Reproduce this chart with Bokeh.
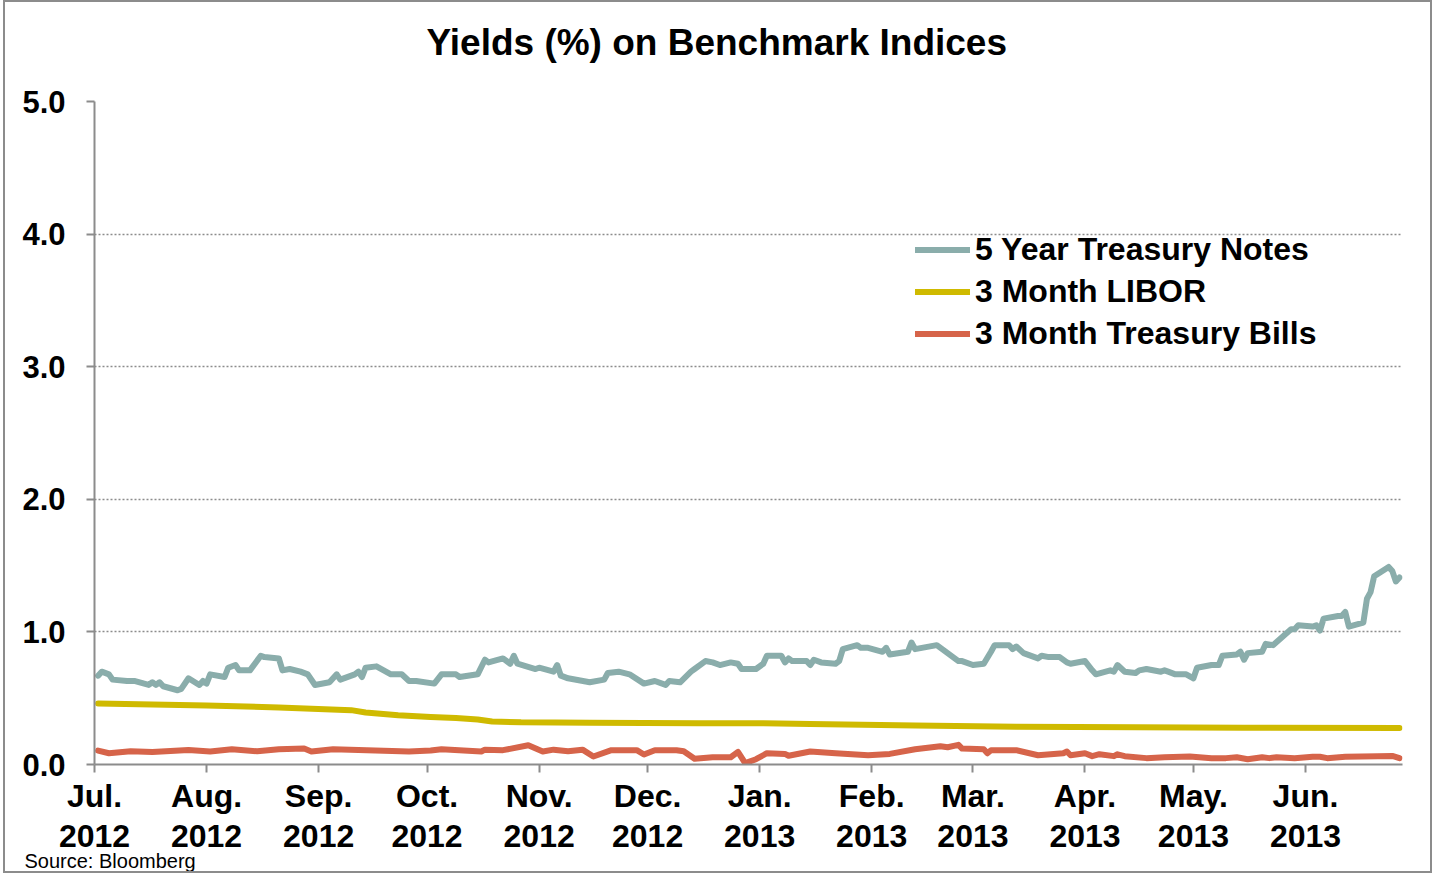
from datetime import datetime
import pandas as pd
from bokeh.plotting import figure
from bokeh.models import (Range1d, FixedTicker, PrintfTickFormatter, Legend, LegendItem,
                          Title, ColumnDataSource)
from bokeh.embed import file_html
from bokeh.resources import INLINE

# ---------------- data ----------------
title_text = "Yields (%) on Benchmark Indices"
source_text = "Source: Bloomberg"
series_names = ["5 Year Treasury Notes", "3 Month LIBOR", "3 Month Treasury Bills"]

t5_dates = ["2012-07-02", "2012-07-03", "2012-07-05", "2012-07-06", "2012-07-10", "2012-07-12",
            "2012-07-16", "2012-07-17", "2012-07-18", "2012-07-19", "2012-07-20", "2012-07-24",
            "2012-07-25", "2012-07-27", "2012-07-30", "2012-07-31", "2012-08-01", "2012-08-02",
            "2012-08-06", "2012-08-07", "2012-08-09", "2012-08-10", "2012-08-13", "2012-08-16",
            "2012-08-17", "2012-08-21", "2012-08-22", "2012-08-24", "2012-08-27", "2012-08-29",
            "2012-08-31", "2012-09-04", "2012-09-06", "2012-09-07", "2012-09-11", "2012-09-12",
            "2012-09-13", "2012-09-14", "2012-09-17", "2012-09-19", "2012-09-21", "2012-09-24",
            "2012-09-26", "2012-09-28", "2012-10-03", "2012-10-05", "2012-10-09", "2012-10-10",
            "2012-10-15", "2012-10-17", "2012-10-18", "2012-10-22", "2012-10-24", "2012-10-25",
            "2012-10-26", "2012-10-31", "2012-11-01", "2012-11-05", "2012-11-06", "2012-11-07",
            "2012-11-09", "2012-11-15", "2012-11-19", "2012-11-20", "2012-11-23", "2012-11-26",
            "2012-11-30", "2012-12-03", "2012-12-06", "2012-12-07", "2012-12-10", "2012-12-13",
            "2012-12-14", "2012-12-17", "2012-12-19", "2012-12-21", "2012-12-24", "2012-12-26",
            "2012-12-27", "2012-12-31", "2013-01-02", "2013-01-03", "2013-01-07", "2013-01-08",
            "2013-01-09", "2013-01-10", "2013-01-14", "2013-01-15", "2013-01-16", "2013-01-18",
            "2013-01-22", "2013-01-23", "2013-01-24", "2013-01-28", "2013-01-29", "2013-01-31",
            "2013-02-04", "2013-02-05", "2013-02-06", "2013-02-11", "2013-02-12", "2013-02-13",
            "2013-02-19", "2013-02-25", "2013-02-26", "2013-03-01", "2013-03-04", "2013-03-06",
            "2013-03-07", "2013-03-11", "2013-03-12", "2013-03-13", "2013-03-15", "2013-03-19",
            "2013-03-20", "2013-03-22", "2013-03-25", "2013-03-27", "2013-03-28", "2013-04-01",
            "2013-04-03", "2013-04-04", "2013-04-08", "2013-04-09", "2013-04-10", "2013-04-12",
            "2013-04-15", "2013-04-16", "2013-04-18", "2013-04-22", "2013-04-23", "2013-04-24",
            "2013-04-26", "2013-04-29", "2013-05-01", "2013-05-02", "2013-05-06", "2013-05-08",
            "2013-05-09", "2013-05-13", "2013-05-14", "2013-05-15", "2013-05-16", "2013-05-20",
            "2013-05-21", "2013-05-23", "2013-05-28", "2013-05-29", "2013-05-30", "2013-06-03",
            "2013-06-04", "2013-06-05", "2013-06-06", "2013-06-10", "2013-06-11", "2013-06-12",
            "2013-06-13", "2013-06-17", "2013-06-18", "2013-06-19", "2013-06-20", "2013-06-24",
            "2013-06-25", "2013-06-26", "2013-06-27"]
t5_values = [0.67, 0.70, 0.68, 0.64, 0.63, 0.63,
             0.60, 0.62, 0.60, 0.62, 0.59, 0.56,
             0.57, 0.65, 0.60, 0.63, 0.61, 0.68,
             0.66, 0.73, 0.75, 0.71, 0.71, 0.82,
             0.81, 0.80, 0.71, 0.72, 0.70, 0.68,
             0.60, 0.62, 0.68, 0.64, 0.68, 0.70,
             0.66, 0.73, 0.74, 0.71, 0.68, 0.68,
             0.63, 0.63, 0.61, 0.68, 0.68, 0.66,
             0.68, 0.79, 0.77, 0.80, 0.76, 0.82,
             0.76, 0.72, 0.73, 0.70, 0.75, 0.67,
             0.65, 0.62, 0.64, 0.69, 0.70, 0.68,
             0.61, 0.63, 0.60, 0.63, 0.62, 0.70,
             0.72, 0.78, 0.77, 0.75, 0.77, 0.76,
             0.72, 0.72, 0.76, 0.82, 0.82, 0.77,
             0.80, 0.78, 0.78, 0.75, 0.79, 0.77,
             0.76, 0.78, 0.87, 0.90, 0.88, 0.88,
             0.85, 0.88, 0.83, 0.85, 0.92, 0.87,
             0.90, 0.78, 0.78, 0.75, 0.76, 0.85,
             0.90, 0.90, 0.87, 0.89, 0.84, 0.80,
             0.82, 0.81, 0.81, 0.77, 0.76, 0.78,
             0.71, 0.68, 0.71, 0.70, 0.75, 0.70,
             0.69, 0.71, 0.72, 0.70, 0.71, 0.70,
             0.68, 0.68, 0.65, 0.73, 0.75, 0.75,
             0.82, 0.83, 0.85, 0.79, 0.84, 0.85,
             0.91, 0.90, 1.02, 1.02, 1.05, 1.04,
             1.05, 1.01, 1.10, 1.12, 1.12, 1.15,
             1.04, 1.07, 1.25, 1.30, 1.42, 1.49,
             1.46, 1.38, 1.41]

libor_dates = ["2012-07-02", "2012-08-01", "2012-08-21", "2012-09-10", "2012-09-14", "2012-09-23",
               "2012-10-02", "2012-10-09", "2012-10-15", "2012-10-19", "2012-10-27", "2012-11-15",
               "2012-12-15", "2013-01-02", "2013-01-15", "2013-02-13", "2013-03-13", "2013-04-15",
               "2013-05-15", "2013-06-27"]
libor_values = [0.460, 0.445, 0.430, 0.410, 0.392, 0.372,
                0.358, 0.350, 0.340, 0.325, 0.318, 0.314,
                0.312, 0.312, 0.305, 0.294, 0.284, 0.280,
                0.277, 0.276]

tb_dates = ["2012-07-02", "2012-07-05", "2012-07-11", "2012-07-17", "2012-07-27", "2012-08-02",
            "2012-08-08", "2012-08-15", "2012-08-21", "2012-08-28", "2012-08-30", "2012-09-05",
            "2012-09-12", "2012-09-26", "2012-10-02", "2012-10-05", "2012-10-16", "2012-10-17",
            "2012-10-22", "2012-10-29", "2012-11-02", "2012-11-05", "2012-11-09", "2012-11-13",
            "2012-11-16", "2012-11-21", "2012-11-28", "2012-11-30", "2012-12-03", "2012-12-09",
            "2012-12-11", "2012-12-14", "2012-12-19", "2012-12-24", "2012-12-26", "2012-12-28",
            "2012-12-31", "2013-01-03", "2013-01-08", "2013-01-09", "2013-01-15", "2013-01-22",
            "2013-01-31", "2013-02-06", "2013-02-13", "2013-02-20", "2013-02-22", "2013-02-25",
            "2013-02-26", "2013-03-04", "2013-03-05", "2013-03-06", "2013-03-13", "2013-03-19",
            "2013-03-26", "2013-03-27", "2013-03-28", "2013-04-01", "2013-04-03", "2013-04-05",
            "2013-04-09", "2013-04-10", "2013-04-12", "2013-04-18", "2013-04-23", "2013-04-30",
            "2013-05-06", "2013-05-10", "2013-05-13", "2013-05-16", "2013-05-20", "2013-05-22",
            "2013-05-24", "2013-05-29", "2013-06-03", "2013-06-05", "2013-06-07", "2013-06-12",
            "2013-06-21", "2013-06-25", "2013-06-27"]
tb_values = [0.105, 0.085, 0.100, 0.095, 0.110, 0.098,
             0.115, 0.100, 0.115, 0.120, 0.098, 0.115,
             0.110, 0.098, 0.105, 0.115, 0.098, 0.112,
             0.108, 0.145, 0.098, 0.112, 0.100, 0.112,
             0.060, 0.108, 0.108, 0.075, 0.108, 0.108,
             0.100, 0.043, 0.055, 0.055, 0.095, 0.010,
             0.040, 0.085, 0.080, 0.066, 0.098, 0.085,
             0.070, 0.080, 0.115, 0.138, 0.130, 0.148,
             0.120, 0.115, 0.085, 0.108, 0.108, 0.070,
             0.085, 0.098, 0.070, 0.085, 0.063, 0.078,
             0.063, 0.077, 0.063, 0.048, 0.055, 0.060,
             0.048, 0.048, 0.055, 0.040, 0.055, 0.048,
             0.055, 0.048, 0.058, 0.058, 0.048, 0.058,
             0.063, 0.065, 0.048]

month_ticks = ["2012-07-01", "2012-08-01", "2012-09-01", "2012-10-01", "2012-11-01", "2012-12-01",
               "2013-01-01", "2013-02-01", "2013-03-01", "2013-04-01", "2013-05-01", "2013-06-01"]
month_labels = ["Jul.\n2012", "Aug.\n2012", "Sep.\n2012", "Oct.\n2012", "Nov.\n2012", "Dec.\n2012",
                "Jan.\n2013", "Feb.\n2013", "Mar.\n2013", "Apr.\n2013", "May.\n2013", "Jun.\n2013"]
y_ticks = [0, 1, 2, 3, 4, 5]

colors = ["#8AADAB", "#CFBA00", "#D6644A"]
FONT = "Liberation Sans"

# ---------------- figure ----------------
p = figure(width=1429, height=873, output_backend="svg", toolbar_location=None,
           x_axis_type="datetime",
           x_range=Range1d(datetime(2012, 7, 1), datetime(2013, 6, 27, 20)),
           y_range=Range1d(0, 5),
           min_border_left=89, min_border_right=32, min_border_top=99, min_border_bottom=111)
p.outline_line_color = None
p.background_fill_color = "white"
p.border_fill_color = "white"
p.styles = {"border": "2px solid #8c8c8c", "margin-left": "3px", "margin-top": "0px"}

def to_ms(s):
    return int(pd.Timestamp(s).value // 10**6)

renderers = []
for dates, vals, col in [(t5_dates, t5_values, colors[0]),
                         (libor_dates, libor_values, colors[1]),
                         (tb_dates, tb_values, colors[2])]:
    src = ColumnDataSource(dict(x=pd.to_datetime(dates), y=vals))
    r = p.line("x", "y", source=src, line_color=col, line_width=6, line_join="round", line_cap="round")
    renderers.append(r)

# axes
tick_ms = [to_ms(s) for s in month_ticks]
xa = p.xaxis[0]
xa.ticker = FixedTicker(ticks=tick_ms)
xa.major_label_overrides = {t: lab for t, lab in zip(tick_ms, month_labels)}
xa.minor_tick_line_color = None
xa.major_tick_in = 0
xa.major_tick_out = 8
xa.axis_line_color = "#8c8c8c"
xa.axis_line_width = 2
xa.major_tick_line_color = "#8c8c8c"
xa.major_tick_line_width = 2
xa.major_label_text_font = FONT
xa.major_label_text_font_style = "bold"
xa.major_label_text_font_size = "32px"
xa.major_label_text_color = "black"
xa.major_label_text_line_height = 1.12
xa.major_label_standoff = 5

ya = p.yaxis[0]
ya.ticker = FixedTicker(ticks=y_ticks)
ya.formatter = PrintfTickFormatter(format="%.1f")
ya.minor_tick_line_color = None
ya.major_tick_in = 0
ya.major_tick_out = 8
ya.axis_line_color = "#8c8c8c"
ya.axis_line_width = 2
ya.major_tick_line_color = "#8c8c8c"
ya.major_tick_line_width = 2
ya.major_label_text_font = FONT
ya.major_label_text_font_style = "bold"
ya.major_label_text_font_size = "31px"
ya.major_label_text_color = "black"
ya.major_label_standoff = 21

p.xgrid.grid_line_color = None
p.ygrid.ticker = FixedTicker(ticks=y_ticks)
p.ygrid.grid_line_color = "#8c8c8c"
p.ygrid.grid_line_width = 1.5
p.ygrid.grid_line_dash = "2 2"

# legend
legend = Legend(items=[LegendItem(label=n, renderers=[r]) for n, r in zip(series_names, renderers)],
                location=(821, 412), orientation="vertical",
                glyph_width=55, glyph_height=37, label_height=37, label_standoff=5, spacing=5,
                padding=0, margin=0, border_line_color=None, background_fill_alpha=0,
                label_text_font=FONT, label_text_font_style="bold", label_text_font_size="32px",
                label_text_color="black")
p.add_layout(legend, "center")

# title (with a blank spacer panel between it and the plot) and source
p.add_layout(Title(text=" ", standoff=26, text_font=FONT, text_font_size="10px"), "above")
p.add_layout(Title(text=title_text, align="left", offset=332, standoff=0,
                   text_font=FONT, text_font_style="bold", text_font_size="37px",
                   text_color="black"), "above")
p.add_layout(Title(text=source_text, align="left", offset=-70, standoff=-30,
                   text_font=FONT, text_font_style="normal", text_font_size="20px",
                   text_color="black"), "below")

open("out.html", "w").write(file_html(p, INLINE))
